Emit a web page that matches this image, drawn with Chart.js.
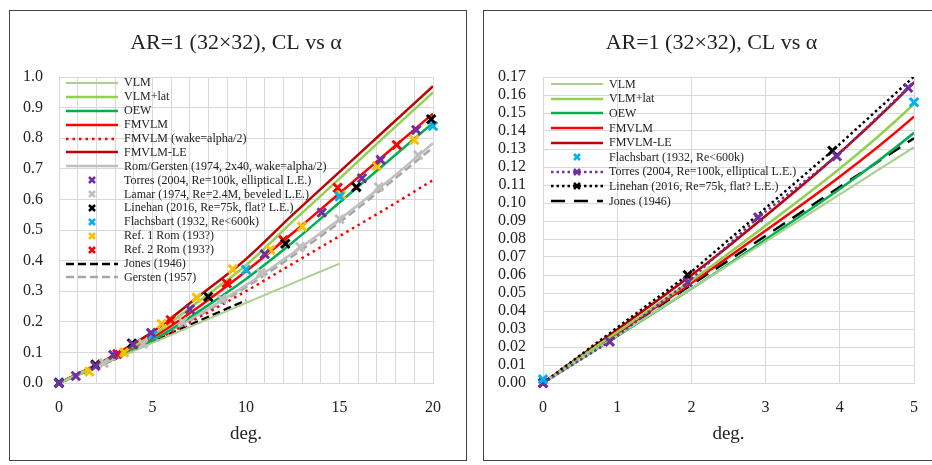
<!DOCTYPE html>
<html>
<head>
<meta charset="utf-8">
<script src="https://cdn.jsdelivr.net/npm/chart.js@4.4.1/dist/chart.umd.min.js"></script>
<style>
  body { margin: 0; background: #fff; width: 932px; height: 465px; overflow: hidden; position: relative; }
  .panel { position: absolute; border: 1.5px solid #444; box-sizing: border-box; }
  canvas.plot { position: absolute; }
  .legend { position: absolute; font-family: 'Liberation Serif', 'Times New Roman', serif; font-size: 12px; color: #222; }
  .legend .row { display: flex; align-items: center; white-space: nowrap; }
  .legend .row canvas { margin-right: 6px; }
</style>
</head>
<body>
<div class="panel" style="left:9px;top:10px;width:458px;height:451px"></div>
<div class="panel" style="left:483px;top:10px;width:458px;height:451px"></div>
<canvas class="plot" id="leftChart" width="454" height="448" style="left:9px;top:11px"></canvas>
<canvas class="plot" id="rightChart" width="455" height="448" style="left:484px;top:11px"></canvas>
<div class="legend" id="leftLegend" style="left:66px;top:76px"></div>
<div class="legend" id="rightLegend" style="left:551px;top:77px"></div>
<script>
// computed curves, CL against alpha in degrees
const alpha = [0, 2.5, 5, 7.5, 10, 12.5, 15, 17.5, 20];
const vlmAlpha = [0, 5, 10, 15];
const vlm = [0, 0.131, 0.262, 0.39];
const vlmLat = [0, 0.072, 0.155, 0.268, 0.385, 0.528, 0.668, 0.81, 0.95];
const oew = [0, 0.066, 0.139, 0.235, 0.34, 0.46, 0.59, 0.72, 0.85];
const fmvlm = [0, 0.07, 0.148, 0.25, 0.365, 0.49, 0.62, 0.75, 0.88];
const fmvlmWake = [0, 0.065, 0.135, 0.215, 0.30, 0.39, 0.48, 0.57, 0.663];
const fmvlmLE = [0, 0.076, 0.167, 0.285, 0.405, 0.55, 0.69, 0.83, 0.97];
const romGersten = [0, 0.067, 0.14, 0.225, 0.32, 0.425, 0.535, 0.655, 0.784];
const gersten = [0, 0.065, 0.137, 0.22, 0.313, 0.415, 0.525, 0.645, 0.77];
const jonesAlpha = [0, 5, 10];
const jones = [0, 0.136, 0.27];

// wind tunnel data
const torresAlpha = [0, 0.9, 1.95, 2.9, 3.96, 4.92, 7.0, 11.0, 14.05, 16.2, 17.2, 19.1];
const torres = [0, 0.023, 0.056, 0.092, 0.126, 0.164, 0.241, 0.421, 0.557, 0.669, 0.729, 0.827];
const lamarAlpha = [2.4, 4.5, 6.6, 8.7, 10.8, 12.9, 15.0, 17.1, 19.2];
const lamar = [0.065, 0.128, 0.2, 0.275, 0.36, 0.445, 0.535, 0.64, 0.745];
const linehanAlpha = [0, 1.95, 3.9, 7.98, 12.1, 15.9, 19.9];
const linehan = [0, 0.06, 0.129, 0.282, 0.455, 0.64, 0.862];
const flachsbartAlpha = [0, 5, 10, 15, 20];
const flachsbart = [0.002, 0.156, 0.37, 0.61, 0.84];
const rom1Alpha = [1.62, 3.48, 5.49, 7.36, 9.29, 11.3, 13.0, 15.1, 17.0, 19.0];
const rom1 = [0.037, 0.1, 0.193, 0.279, 0.372, 0.435, 0.511, 0.614, 0.709, 0.794];
const rom2Alpha = [3.12, 5.97, 8.97, 12.0, 14.9, 18.06];
const rom2 = [0.095, 0.206, 0.326, 0.467, 0.638, 0.778];

const FONT = "'Liberation Serif', 'Times New Roman', serif";
const GRID = '#d9d9d9';
const TEXT = '#222';

function pts(xs, ys) {
  return xs.map((x, i) => ({ x: x, y: ys[i] }));
}

const leftSeries = [
  { label: 'VLM', x: vlmAlpha, y: vlm, color: '#a9d18e', width: 2 },
  { label: 'VLM+lat', x: alpha, y: vlmLat, color: '#92d050', width: 2.5 },
  { label: 'OEW', x: alpha, y: oew, color: '#00b050', width: 2.5 },
  { label: 'FMVLM', x: alpha, y: fmvlm, color: '#ff0000', width: 2.5 },
  { label: 'FMVLM (wake=alpha/2)', x: alpha, y: fmvlmWake, color: '#ff0000', width: 2.5, dash: [2.5, 4] },
  { label: 'FMVLM-LE', x: alpha, y: fmvlmLE, color: '#c00000', width: 2.5 },
  { label: 'Rom/Gersten (1974, 2x40, wake=alpha/2)', x: alpha, y: romGersten, color: '#bfbfbf', width: 2.5 },
  { label: 'Torres (2004, Re=100k, elliptical L.E.)', x: torresAlpha, y: torres, color: '#7030a0', marker: true },
  { label: 'Lamar (1974, Re=2.4M, beveled L.E.)', x: lamarAlpha, y: lamar, color: '#bfbfbf', marker: true },
  { label: 'Linehan (2016, Re=75k, flat? L.E.)', x: linehanAlpha, y: linehan, color: '#000000', marker: true },
  { label: 'Flachsbart (1932, Re<600k)', x: flachsbartAlpha, y: flachsbart, color: '#00b0f0', marker: true },
  { label: 'Ref. 1 Rom (193?)', x: rom1Alpha, y: rom1, color: '#ffc000', marker: true },
  { label: 'Ref. 2 Rom (193?)', x: rom2Alpha, y: rom2, color: '#ff0000', marker: true },
  { label: 'Jones (1946)', x: jonesAlpha, y: jones, color: '#000000', width: 2.5, dash: [8, 4] },
  { label: 'Gersten (1957)', x: alpha, y: gersten, color: '#a6a6a6', width: 2.5, dash: [8, 4] }
];

const rightSeries = [
  { label: 'VLM', x: vlmAlpha, y: vlm, color: '#a9d18e', width: 2 },
  { label: 'VLM+lat', x: alpha, y: vlmLat, color: '#92d050', width: 2.5 },
  { label: 'OEW', x: alpha, y: oew, color: '#00b050', width: 2.5 },
  { label: 'FMVLM', x: alpha, y: fmvlm, color: '#ff0000', width: 2.5 },
  { label: 'FMVLM-LE', x: alpha, y: fmvlmLE, color: '#c00000', width: 2.5 },
  { label: 'Flachsbart (1932, Re<600k)', x: flachsbartAlpha, y: flachsbart, color: '#00b0f0', marker: true },
  { label: 'Torres (2004, Re=100k, elliptical L.E.)', x: torresAlpha, y: torres, color: '#7030a0', width: 2.5, dash: [2.5, 3], marker: true },
  { label: 'Linehan (2016, Re=75k, flat? L.E.)', x: linehanAlpha, y: linehan, color: '#000000', width: 2.5, dash: [2.5, 3], marker: true },
  { label: 'Jones (1946)', x: jonesAlpha, y: jones, color: '#000000', width: 2.5, dash: [14, 9] }
];

function toDataset(s, xMax) {
  const data = pts(s.x, s.y).filter(p => s.width || p.x <= xMax + 0.01);
  return {
    label: s.label,
    data: data,
    showLine: !!s.width,
    // computed curves are smooth, measured series are joined point to point
    cubicInterpolationMode: s.marker ? 'default' : 'monotone',
    borderColor: s.color,
    backgroundColor: s.color,
    borderWidth: s.width || 0,
    borderDash: s.dash || [],
    pointStyle: 'crossRot',
    pointRadius: s.marker ? 6 : 0,
    pointHoverRadius: 0,
    pointBorderWidth: 3,
    pointBorderColor: s.color,
    order: s.marker ? 0 : 1,
    clip: s.marker ? (s.width ? { left: 10, top: 0, right: 0, bottom: 10 } : false) : 0
  };
}

function makeChart(id, series, opt) {
  return new Chart(document.getElementById(id), {
    type: 'scatter',
    data: { datasets: series.map(s => toDataset(s, opt.xMax)) },
    options: {
      responsive: false,
      animation: false,
      devicePixelRatio: 1,
      layout: { padding: 0 },
      plugins: {
        legend: { display: false },
        tooltip: { enabled: false },
        title: {
          display: true,
          text: 'AR=1 (32×32), CL vs α',
          color: TEXT,
          font: { family: FONT, size: 22, weight: 'normal' },
          padding: { top: 19, bottom: 20.6 }
        }
      },
      scales: {
        x: {
          type: 'linear',
          min: 0,
          max: opt.xMax,
          grid: { color: GRID, drawTicks: false },
          border: { color: GRID },
          ticks: {
            stepSize: 1,
            autoSkip: false,
            maxRotation: 0,
            padding: 15,
            color: TEXT,
            font: { family: FONT, size: 16 },
            callback: v => (v % opt.xLabelEvery === 0 ? v : '')
          },
          title: {
            display: true,
            text: 'deg.',
            color: TEXT,
            font: { family: FONT, size: 19 },
            padding: { top: 0, bottom: 14 }
          },
          afterFit: scale => { scale.height = 76; }
        },
        y: {
          min: 0,
          max: opt.yMax,
          grid: { color: GRID, drawTicks: false },
          border: { color: GRID },
          ticks: {
            stepSize: opt.yStep,
            autoSkip: false,
            padding: opt.yPad,
            color: TEXT,
            font: { family: FONT, size: 16 },
            callback: v => v.toFixed(opt.decimals)
          },
          afterFit: scale => { scale.width = opt.yWidth; }
        },
        // empty right-hand axis, only reserves the margin beside the plot
        // so the title stays centred on the whole panel
        gap: {
          type: 'linear',
          position: 'right',
          display: true,
          grid: { display: false },
          border: { display: false },
          ticks: { display: false },
          afterFit: scale => { scale.width = opt.rightGap; }
        }
      }
    }
  });
}

// legend rows drawn as html so they can sit inside the plot area
function makeLegend(id, series, rowH) {
  const box = document.getElementById(id);
  series.forEach(s => {
    const row = document.createElement('div');
    row.className = 'row';
    row.style.height = rowH + 'px';
    const c = document.createElement('canvas');
    c.width = 52;
    c.height = 14;
    const ctx = c.getContext('2d');
    if (s.width) {
      ctx.strokeStyle = s.color;
      ctx.lineWidth = s.width;
      ctx.setLineDash(s.dash || []);
      ctx.beginPath();
      ctx.moveTo(0, 7);
      ctx.lineTo(52, 7);
      ctx.stroke();
    }
    if (s.marker) {
      ctx.setLineDash([]);
      ctx.strokeStyle = s.color;
      ctx.lineWidth = 2.5;
      ctx.beginPath();
      ctx.moveTo(23, 4); ctx.lineTo(29, 10);
      ctx.moveTo(29, 4); ctx.lineTo(23, 10);
      ctx.stroke();
    }
    row.appendChild(c);
    const t = document.createElement('span');
    t.textContent = s.label;
    row.appendChild(t);
    box.appendChild(row);
  });
}

makeChart('leftChart', leftSeries, {
  xMax: 20, xLabelEvery: 5, yMax: 1.0, yStep: 0.1, decimals: 1,
  yWidth: 50, yPad: 16, rightGap: 30
});
makeChart('rightChart', rightSeries, {
  xMax: 5, xLabelEvery: 1, yMax: 0.17, yStep: 0.01, decimals: 2,
  yWidth: 59, yPad: 17, rightGap: 25
});
makeLegend('leftLegend', leftSeries, 13.9);
makeLegend('rightLegend', rightSeries, 14.6);
</script>
</body>
</html>
